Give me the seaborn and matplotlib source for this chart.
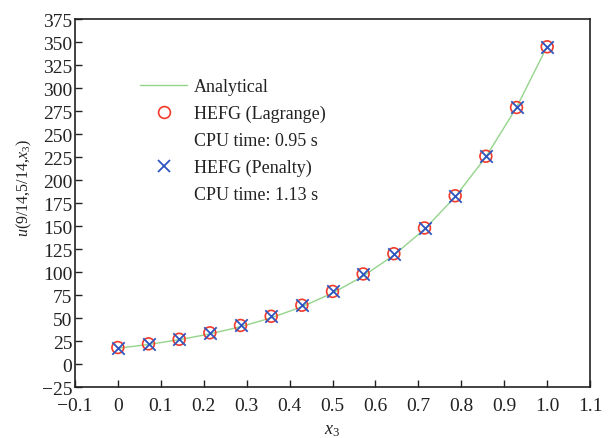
import matplotlib
matplotlib.use("Agg")
import matplotlib.pyplot as plt
from matplotlib.lines import Line2D
import seaborn as sns
import pandas as pd

# data
x_nodes = [0, 1/14, 2/14, 3/14, 4/14, 5/14, 6/14, 7/14, 8/14, 9/14, 10/14, 11/14, 12/14, 13/14, 1.0]
u_analytical = [17.2, 21.3, 26.5, 32.8, 40.6, 50.3, 62.3, 77.2, 95.6, 118.4, 146.7, 181.8, 225.2, 279.0, 345.5]
u_lagrange = [18, 22, 27, 34, 42, 52, 64, 79, 98, 120, 148, 183, 226, 279, 345]
u_penalty = [18, 22, 27, 34, 42, 52, 64, 79, 98, 120, 148, 183, 226, 279, 345]
x_ticks = [-0.1, 0, 0.1, 0.2, 0.3, 0.4, 0.5, 0.6, 0.7, 0.8, 0.9, 1.0, 1.1]
x_tick_labels = ["\u22120.1", "0", "0.1", "0.2", "0.3", "0.4", "0.5", "0.6", "0.7", "0.8", "0.9", "1.0", "1.1"]
y_ticks = [-25, 0, 25, 50, 75, 100, 125, 150, 175, 200, 225, 250, 275, 300, 325, 350, 375]
y_tick_labels = ["\u221225"] + [str(v) for v in y_ticks[1:]]
legend_labels = ["Analytical", "HEFG (Lagrange)", "CPU time: 0.95 s", "HEFG (Penalty)", "CPU time: 1.13 s"]

sns.set_style("ticks")
plt.rcParams["font.family"] = ["Liberation Serif", "DejaVu Serif"]
plt.rcParams["mathtext.fontset"] = "custom"
plt.rcParams["mathtext.rm"] = "Liberation Serif"
plt.rcParams["mathtext.it"] = "Liberation Serif:italic"

green = "#93d48a"
red = "#f03a2a"
blue = "#2f55c0"
ink = "#222222"

df = pd.DataFrame({"x": x_nodes, "ua": u_analytical, "ul": u_lagrange, "up": u_penalty})

fig = plt.figure(figsize=(6.09, 4.39), dpi=100)
ax = fig.add_axes([0.123, 0.116, 0.846, 0.838])

sns.lineplot(data=df, x="x", y="ua", ax=ax, color=green, linewidth=1.0, zorder=1)
sns.scatterplot(data=df, x="x", y="ul", ax=ax, marker="o", s=72, facecolors="none",
                edgecolor=red, linewidth=1.2, zorder=2)
sns.scatterplot(data=df, x="x", y="up", ax=ax, marker="x", s=80, color=blue,
                linewidth=1.3, zorder=3)

ax.set_xlim(-0.1, 1.1)
ax.set_ylim(-25, 375)
ax.set_xticks(x_ticks)
ax.set_xticklabels(x_tick_labels)
ax.set_yticks(y_ticks)
ax.set_yticklabels(y_tick_labels)
ax.tick_params(direction="in", length=5, width=1, labelsize=14, colors=ink)
ax.tick_params(axis="x", pad=7)
ax.tick_params(axis="y", pad=2)
for s in ax.spines.values():
    s.set_linewidth(1.2)
    s.set_color(ink)

ax.set_xlabel("$x_3$", fontsize=13, color=ink)
ax.xaxis.set_label_coords(0.5, -0.093)
ax.set_ylabel("$u$(9/14,5/14,$x_3$)", fontsize=11.5, color=ink)
ax.yaxis.set_label_coords(-0.080, 0.543)

handles = [
    Line2D([], [], color=green, linewidth=1.0),
    Line2D([], [], marker="o", linestyle="", markersize=8.5, markerfacecolor="none",
           markeredgecolor=red, markeredgewidth=1.2),
    Line2D([], [], linestyle="", marker=""),
    Line2D([], [], marker="x", linestyle="", markersize=9, color=blue, markeredgewidth=1.3),
    Line2D([], [], linestyle="", marker=""),
]
leg = ax.legend(handles, legend_labels, loc="upper left", bbox_to_anchor=(0.113, 0.86),
                frameon=False, fontsize=13, handlelength=2.6, handletextpad=0.35,
                labelspacing=0.55, borderaxespad=0)
for t in leg.get_texts():
    t.set_color(ink)

fig.savefig("out.png", dpi=100)
